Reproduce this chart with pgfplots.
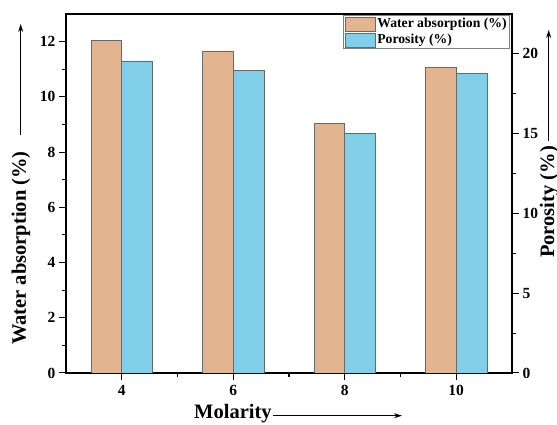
\documentclass[border=0pt]{standalone}
\usepackage{fontspec}
\setmainfont{Liberation Serif}
\usepackage{pgfplots}
\pgfplotsset{compat=1.18}
\usetikzlibrary{arrows.meta}
\definecolor{wa}{RGB}{226,180,144}
\definecolor{po}{RGB}{128,206,231}
\definecolor{edge}{RGB}{105,105,105}
\newcommand{\tl}{\fontsize{15.5}{17}\selectfont\bfseries}
\begin{document}
\begin{tikzpicture}
\path[use as bounding box] (-66pt,-52pt) rectangle (491pt,373pt);
\begin{scope}
\clip (-66pt,-52pt) rectangle (491pt,373pt);
\pgfplotsset{
  base/.style={
    width=446pt, height=359pt, scale only axis,
    at={(0pt,0pt)}, anchor=south west,
    xmin=3, xmax=11,
    tick align=outside,
    major tick length=7pt, minor tick length=4pt,
    every tick/.style={black, line width=1pt},
    axis line style={line width=1.1pt},
    xticklabel={{\tl\pgfmathprintnumber[assume math mode=true]{\tick}}},
    yticklabel={{\tl\pgfmathprintnumber[assume math mode=true]{\tick}}},
    ybar, bar width=0.55,
  }
}
\begin{axis}[base,
  ymin=0, ymax=13,
  xtick={4,6,8,10}, minor x tick num=1,
  ytick={0,2,...,12}, minor y tick num=1,
  xtick pos=bottom, ytick pos=left,
  xticklabel style={yshift=-2pt},
]
\addplot[fill=wa, draw=edge, line width=0.7pt, bar shift=-0.275]
  coordinates {(4,12.03) (6,11.66) (8,9.03) (10,11.08)};
\end{axis}
\begin{axis}[base,
  ymin=0, ymax=22.46,
  axis x line=none, axis y line*=right,
  ytick={0,5,...,20}, minor y tick num=1,
  legend image code/.code={\draw[#1] (0pt,-7pt) rectangle (30pt,7pt);},
  legend style={font=\fontsize{13.7}{15}\selectfont\bfseries, draw=gray,
    line width=0.6pt, inner sep=1pt, row sep=1pt,
    at={(rel axis cs:0.9955,0.997)}, anchor=north east,
    cells={anchor=west}},
]
\addlegendimage{fill=wa, draw=edge, line width=0.7pt}
\addlegendentry{Water absorption (\%)}
\addplot[fill=po, draw=edge, line width=0.7pt, bar shift=0.275]
  coordinates {(4,19.52) (6,18.94) (8,15.0) (10,18.75)};
\addlegendentry{Porosity (\%)}
\end{axis}
\node[rotate=90, anchor=base west, inner sep=0pt, font=\fontsize{20.5}{24}\selectfont\bfseries] (yl) at (-40pt,28pt) {Water absorption (\%)};
\draw[line width=1pt, -{Stealth[length=8pt,width=5pt]}] (-45.3pt,238pt) -- (-45.3pt,349pt);
\node[anchor=base west, inner sep=0pt, font=\fontsize{20.5}{24}\selectfont\bfseries] at (128pt,-46pt) {Molarity};
\draw[line width=1pt, -{Stealth[length=8pt,width=5pt]}] (207pt,-42.7pt) -- (336pt,-42.7pt);
\node[rotate=90, anchor=base west, inner sep=0pt, font=\fontsize{20.5}{24}\selectfont\bfseries] at (488pt,115pt) {Porosity (\%)};
\draw[line width=1pt, -{Stealth[length=8pt,width=5pt]}] (482.7pt,232pt) -- (482.7pt,343pt);
\end{scope}
\end{tikzpicture}
\end{document}
